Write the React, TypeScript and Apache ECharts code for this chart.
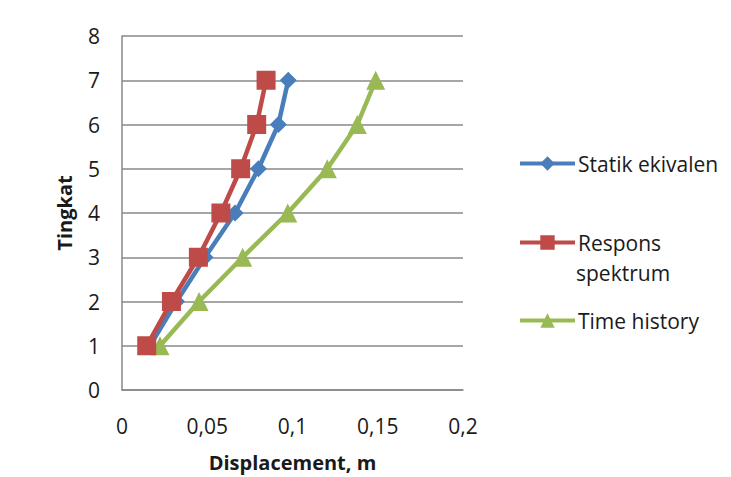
import React, { useEffect, useRef } from "react";
import * as echarts from "echarts";

// Storey levels (Tingkat) and lateral displacement per method, in metres
const levels = [1, 2, 3, 4, 5, 6, 7];
const statikEkivalen = [0.0164, 0.032, 0.0487, 0.0663, 0.08, 0.0917, 0.0975];
const responsSpektrum = [0.0145, 0.029, 0.0448, 0.058, 0.0696, 0.079, 0.0845];
const timeHistory = [0.0223, 0.0452, 0.0708, 0.0972, 0.1204, 0.138, 0.1488];

const seriesNames = ["Statik ekivalen", "Respons spektrum", "Time history"];
const seriesColors = ["#4A7EBB", "#BE4B48", "#98B954"];
const seriesSymbols = ["diamond", "rect", "triangle"];
const symbolSizes = [17, 19, 19];

const FONT = "'Open Sans', 'Noto Sans', sans-serif";
const TEXT = "#1a1a1a";

export default function App() {
  const ref = useRef<HTMLDivElement>(null);

  useEffect(() => {
    if (!ref.current) return;
    const chart = echarts.init(ref.current, undefined, { renderer: "svg" });
    const values = [statikEkivalen, responsSpektrum, timeHistory];

    const legendTops = [153, 232, 310];
    chart.setOption({
      animation: false,
      backgroundColor: "#ffffff",
      textStyle: { fontFamily: FONT },
      grid: {
        left: 122,
        top: 36,
        right: 268,
        bottom: 87,
        containLabel: false,
        outerBoundsMode: "none",
      },
      xAxis: {
        type: "value",
        min: 0,
        max: 0.2,
        interval: 0.05,
        name: "Displacement, m",
        nameLocation: "middle",
        nameGap: 62,
        nameTextStyle: { fontFamily: FONT, fontSize: 20, fontWeight: "bold", color: TEXT },
        axisLine: { show: true, lineStyle: { color: "#888888", width: 1.5 } },
        axisTick: { show: false },
        splitLine: { show: false },
        axisLabel: {
          margin: 25,
          fontFamily: FONT,
          fontSize: 21,
          color: TEXT,
          formatter: (v: number) => String(Math.round(v * 100) / 100).replace(".", ","),
        },
      },
      yAxis: {
        type: "value",
        min: 0,
        max: 8,
        interval: 1,
        name: "Tingkat",
        nameLocation: "middle",
        nameGap: 48,
        nameTextStyle: { fontFamily: FONT, fontSize: 20, fontWeight: "bold", color: TEXT },
        axisLine: { show: true, lineStyle: { color: "#888888", width: 1.5 } },
        axisTick: { show: false },
        splitLine: { show: true, lineStyle: { color: "#888888", width: 1.5 } },
        axisLabel: { margin: 22, fontFamily: FONT, fontSize: 21, color: TEXT },
      },
      legend: seriesNames.map((name, i) => ({
        data: [name],
        left: 518,
        top: legendTops[i],
        padding: 0,
        itemWidth: 55,
        itemHeight: 18,
        itemGap: 0,
        selectedMode: false,
        lineStyle: { width: 4 },
        formatter: (n: string) => (n === "Respons spektrum" ? "Respons" : n),
        textStyle: { fontFamily: FONT, fontSize: 21, color: TEXT, padding: [0, 0, 0, -2] },
      })),
      graphic: [
        {
          type: "text",
          left: 576,
          top: 262,
          style: { text: "spektrum", fontFamily: FONT, fontSize: 21, fill: TEXT },
        },
      ],
      series: seriesNames.map((name, i) => ({
        name,
        type: "line",
        data: values[i].map((x, k) => [x, levels[k]]),
        symbol: seriesSymbols[i],
        symbolSize: symbolSizes[i],
        color: seriesColors[i],
        lineStyle: { width: 4.5, color: seriesColors[i] },
        itemStyle: { color: seriesColors[i] },
        z: 2 + (i === 1 ? 1 : 0),
      })),
    });

    return () => chart.dispose();
  }, []);

  return (
    <div
      ref={ref}
      style={{ position: "absolute", left: 0, top: 0, width: 731, height: 477 }}
    />
  );
}
